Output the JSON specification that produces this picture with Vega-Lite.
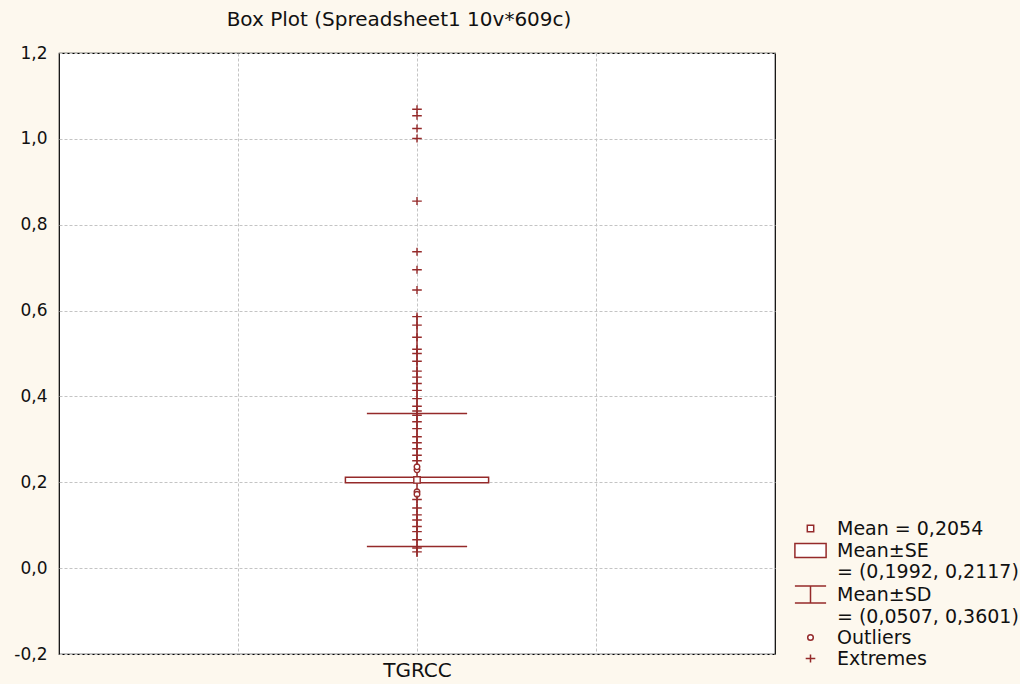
{
  "$schema": "https://vega.github.io/schema/vega-lite/v6.json",
  "width": 716,
  "height": 601,
  "autosize": {"type": "none"},
  "padding": {"left": 59, "top": 53, "right": 245, "bottom": 30},
  "background": "#fdf8ee",
  "config": {
    "view": {"fill": "white", "stroke": "#000000", "strokeWidth": 1.2},
    "font": "DejaVu Sans"
  },
  "title": {
    "text": "Box Plot (Spreadsheet1 10v*609c)",
    "font": "DejaVu Sans",
    "fontSize": 20,
    "fontWeight": "normal",
    "color": "#111111",
    "anchor": "middle",
    "offset": 14,
    "dx": -18
  },
  "datasets": {
    "summary": [
      {"variable": "TGRCC", "mean": 0.2054, "se_lo": 0.1992, "se_hi": 0.2117, "sd_lo": 0.0507, "sd_hi": 0.3601, "line_lo": 0.026, "line_hi": 0.59}
    ],
    "points": [
      {"variable": "TGRCC", "kind": "Mean", "value": 0.2054},
      {"variable": "TGRCC", "kind": "Outliers", "value": 0.229},
      {"variable": "TGRCC", "kind": "Outliers", "value": 0.236},
      {"variable": "TGRCC", "kind": "Outliers", "value": 0.178},
      {"variable": "TGRCC", "kind": "Outliers", "value": 0.172},
      {"variable": "TGRCC", "kind": "Extremes", "value": 1.069},
      {"variable": "TGRCC", "kind": "Extremes", "value": 1.054},
      {"variable": "TGRCC", "kind": "Extremes", "value": 1.024},
      {"variable": "TGRCC", "kind": "Extremes", "value": 1.001},
      {"variable": "TGRCC", "kind": "Extremes", "value": 0.855},
      {"variable": "TGRCC", "kind": "Extremes", "value": 0.737},
      {"variable": "TGRCC", "kind": "Extremes", "value": 0.695},
      {"variable": "TGRCC", "kind": "Extremes", "value": 0.648},
      {"variable": "TGRCC", "kind": "Extremes", "value": 0.586},
      {"variable": "TGRCC", "kind": "Extremes", "value": 0.566},
      {"variable": "TGRCC", "kind": "Extremes", "value": 0.538},
      {"variable": "TGRCC", "kind": "Extremes", "value": 0.51},
      {"variable": "TGRCC", "kind": "Extremes", "value": 0.5},
      {"variable": "TGRCC", "kind": "Extremes", "value": 0.482},
      {"variable": "TGRCC", "kind": "Extremes", "value": 0.459},
      {"variable": "TGRCC", "kind": "Extremes", "value": 0.445},
      {"variable": "TGRCC", "kind": "Extremes", "value": 0.43},
      {"variable": "TGRCC", "kind": "Extremes", "value": 0.414},
      {"variable": "TGRCC", "kind": "Extremes", "value": 0.395},
      {"variable": "TGRCC", "kind": "Extremes", "value": 0.377},
      {"variable": "TGRCC", "kind": "Extremes", "value": 0.366},
      {"variable": "TGRCC", "kind": "Extremes", "value": 0.356},
      {"variable": "TGRCC", "kind": "Extremes", "value": 0.341},
      {"variable": "TGRCC", "kind": "Extremes", "value": 0.325},
      {"variable": "TGRCC", "kind": "Extremes", "value": 0.306},
      {"variable": "TGRCC", "kind": "Extremes", "value": 0.292},
      {"variable": "TGRCC", "kind": "Extremes", "value": 0.278},
      {"variable": "TGRCC", "kind": "Extremes", "value": 0.263},
      {"variable": "TGRCC", "kind": "Extremes", "value": 0.25},
      {"variable": "TGRCC", "kind": "Extremes", "value": 0.16},
      {"variable": "TGRCC", "kind": "Extremes", "value": 0.14},
      {"variable": "TGRCC", "kind": "Extremes", "value": 0.124},
      {"variable": "TGRCC", "kind": "Extremes", "value": 0.112},
      {"variable": "TGRCC", "kind": "Extremes", "value": 0.097},
      {"variable": "TGRCC", "kind": "Extremes", "value": 0.085},
      {"variable": "TGRCC", "kind": "Extremes", "value": 0.066},
      {"variable": "TGRCC", "kind": "Extremes", "value": 0.047},
      {"variable": "TGRCC", "kind": "Extremes", "value": 0.038}
    ]
  },
  "layer": [
    {
      "data": {"name": "summary"},
      "mark": {"type": "rule", "color": "#952a2a", "strokeWidth": 1.5},
      "encoding": {
        "x": {
          "datum": 2,
          "type": "quantitative",
          "scale": {"domain": [0, 4], "nice": false, "zero": false},
          "axis": {
            "values": [1, 2, 3],
            "grid": true,
            "gridColor": "#c4c4c4",
            "gridDash": [3, 2],
            "gridWidth": 1,
            "ticks": false,
            "domain": false,
            "title": null,
            "labelExpr": "datum.value == 2 ? 'TGRCC' : ''",
            "labelFont": "DejaVu Sans",
            "labelFontSize": 20,
            "labelColor": "#111111",
            "labelPadding": 6
          }
        },
        "y": {
          "field": "line_lo",
          "type": "quantitative",
          "scale": {"domain": [-0.2, 1.2], "nice": false, "zero": false},
          "axis": {
            "values": [-0.2, 0, 0.2, 0.4, 0.6, 0.8, 1, 1.2],
            "grid": true,
            "gridColor": "#c4c4c4",
            "gridDash": [3, 2],
            "gridWidth": 1,
            "ticks": false,
            "domain": false,
            "title": null,
            "labelExpr": "replace(replace(format(datum.value, '.1f'), '.', ','), '\u2212', '-')",
            "labelFont": "DejaVu Sans",
            "labelFontSize": 17,
            "labelColor": "#111111",
            "labelPadding": 12
          }
        },
        "y2": {"field": "line_hi"}
      }
    },
    {
      "data": {"name": "summary"},
      "mark": {"type": "rule", "color": "#952a2a", "strokeWidth": 1.5},
      "encoding": {
        "x": {"datum": 1.72, "type": "quantitative"},
        "x2": {"datum": 2.28},
        "y": {"field": "sd_lo", "type": "quantitative"}
      }
    },
    {
      "data": {"name": "summary"},
      "mark": {"type": "rule", "color": "#952a2a", "strokeWidth": 1.5},
      "encoding": {
        "x": {"datum": 1.72, "type": "quantitative"},
        "x2": {"datum": 2.28},
        "y": {"field": "sd_hi", "type": "quantitative"}
      }
    },
    {
      "data": {"name": "summary"},
      "mark": {"type": "rect", "fill": "white", "stroke": "#952a2a", "strokeWidth": 1.5},
      "encoding": {
        "x": {"datum": 1.6, "type": "quantitative"},
        "x2": {"datum": 2.4},
        "y": {"field": "se_lo", "type": "quantitative"},
        "y2": {"field": "se_hi"}
      }
    },
    {
      "data": {"name": "points"},
      "mark": {"type": "point", "size": 64, "fill": "white", "stroke": "#952a2a", "strokeWidth": 1.4, "opacity": 1},
      "encoding": {
        "x": {"datum": 2, "type": "quantitative"},
        "y": {"field": "value", "type": "quantitative"},
        "shape": {
          "field": "kind",
          "type": "nominal",
          "scale": {
            "domain": ["Mean", "SE", "SE_range", "SD", "SD_range", "Outliers", "Extremes"],
            "range": [
              "M-0.8,-0.8H0.8V0.8H-0.8Z",
              "M-3.9,-1.75H3.9V1.75H-3.9Z",
              "M0,0",
              "M-3.9,-2.1H3.9M0,-2.1V2.1M-3.9,2.1H3.9",
              "M0,0",
              "M0.7,0A0.7,0.7 0 1,1 -0.7,0A0.7,0.7 0 1,1 0.7,0Z",
              "M-1.2,0H1.2M0,-1V1"
            ]
          },
          "legend": {
            "orient": "none",
            "legendX": 742,
            "legendY": 466,
            "title": null,
            "symbolSize": 64,
            "labelFont": "DejaVu Sans",
            "labelFontSize": 19,
            "labelColor": "#111111",
            "labelOffset": 17,
            "labelLimit": 300,
            "rowPadding": 1,
            "labelExpr": "datum.label == 'Mean' ? 'Mean = 0,2054' : datum.label == 'SE' ? 'Mean\u00b1SE' : datum.label == 'SE_range' ? '= (0,1992, 0,2117)' : datum.label == 'SD' ? 'Mean\u00b1SD' : datum.label == 'SD_range' ? '= (0,0507, 0,3601)' : datum.label",
            "encode": {
              "symbols": {
                "update": {
                  "fill": {"value": "transparent"},
                  "stroke": {"value": "#952a2a"},
                  "strokeWidth": {"value": 1.5},
                  "opacity": {"value": 1}
                }
              }
            }
          }
        }
      }
    }
  ]
}
